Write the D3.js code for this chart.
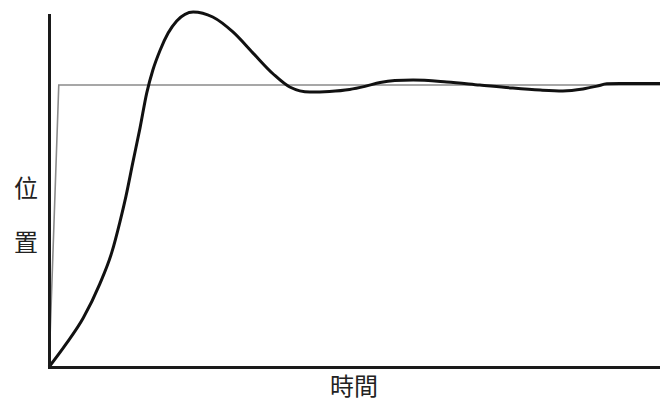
<!DOCTYPE html>
<html><head><meta charset="utf-8">
<script src="https://cdn.jsdelivr.net/npm/d3@7"></script>
<style>html,body{margin:0;padding:0;background:#fff;}svg{display:block;}</style>
</head><body>
<svg id="c" width="660" height="401"></svg>
<script>
// Step response data (time, position); setpoint = 1
const responseTime = [0,0.28,0.56,0.83,1.03,1.16,1.26,1.37,1.49,1.60,1.70,1.82,1.95,2.09,2.36,2.68,3.01,3.34,3.67,3.94,4.27,4.59,4.92,5.17,5.42,5.66,5.96,6.51,7.05,7.59,8.04,8.41,8.74,8.97,9.13,9.34,10];
const responsePos  = [0,0.082,0.174,0.294,0.408,0.514,0.606,0.723,0.848,0.972,1.053,1.124,1.184,1.227,1.259,1.241,1.188,1.113,1.039,0.993,0.975,0.977,0.984,0.995,1.009,1.016,1.018,1.011,1.0,0.989,0.982,0.979,0.986,0.996,1.004,1.005,1.005];
const stepTime = [0,0.16,10];
const stepPos  = [0,1,1];
const xLabel = "時間";
const yLabel = ["位","置"];

const svg = d3.select("#c");
const x = d3.scaleLinear().domain([0,10]).range([49,660]);
const y = d3.scaleLinear().domain([0,1.2482]).range([367,15]);

const line = d3.line().x(d=>x(d[0])).y(d=>y(d[1]));

svg.append("path")
  .datum(stepTime.map((t,i)=>[t,stepPos[i]]))
  .attr("d", line)
  .attr("fill","none").attr("stroke","#8a8a8a").attr("stroke-width",1.6);

svg.append("path")
  .datum(responseTime.map((t,i)=>[t,responsePos[i]]))
  .attr("d", line.curve(d3.curveMonotoneX))
  .attr("fill","none").attr("stroke","#111").attr("stroke-width",3);

const gx = svg.append("g").attr("transform",`translate(0,${y(0)})`)
  .call(d3.axisBottom(x).ticks(0).tickSizeOuter(0));
const gy = svg.append("g").attr("transform",`translate(${x(0)},0)`)
  .call(d3.axisLeft(y).ticks(0).tickSizeOuter(0));
[gx,gy].forEach(g=>g.select(".domain").attr("stroke","#1a1a1a").attr("stroke-width",3).attr("stroke-linecap","square"));

const font = "'Noto Sans CJK TC','Noto Sans CJK JP',sans-serif";
svg.append("text").attr("x",354).attr("y",395).attr("text-anchor","middle")
  .attr("font-family",font).attr("font-size",24).attr("fill","#222").text(xLabel);
yLabel.forEach((ch,i)=>{
  svg.append("text").attr("x",26).attr("y",[197,251][i]).attr("text-anchor","middle")
    .attr("font-family",font).attr("font-size",24).attr("fill","#222").text(ch);
});
</script>
</body></html>
